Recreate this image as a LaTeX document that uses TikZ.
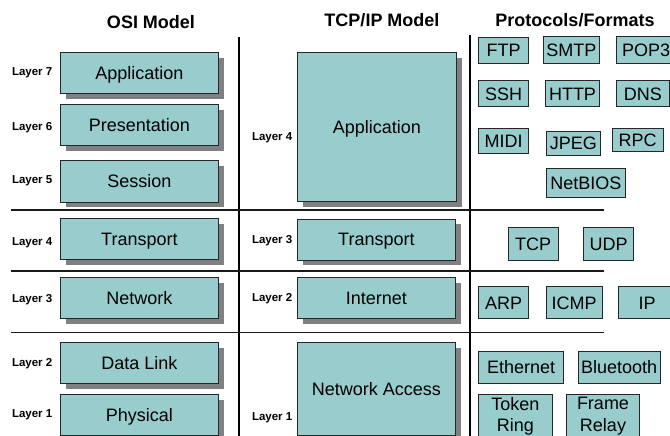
\documentclass[tikz,border=0pt]{standalone}
\usepackage{fontspec}
\setmainfont{Liberation Sans}
\usetikzlibrary{shadows}
\definecolor{boxfill}{HTML}{99CCCC}
\definecolor{shadecol}{HTML}{808080}
\begin{document}
\begin{tikzpicture}[x=1pt,y=-1pt,
  base box/.style={draw=black!85, fill=boxfill, inner sep=0pt, anchor=north west,
    font=\fontsize{18}{21.5}\selectfont},
  onetext/.style={text height=13pt, text depth=0pt},
  layerbox/.style={base box, onetext, line width=0.8pt,
    drop shadow={shadow xshift=5.5pt, shadow yshift=-5.5pt, fill=shadecol, opacity=1}},
  protobox/.style={base box, onetext, line width=0.7pt},
  protobox2/.style={base box, line width=0.7pt, align=center},
  layerlabel/.style={anchor=east, inner sep=0pt, font=\bfseries\fontsize{11.5}{13}\selectfont,
    text height=8.3pt, text depth=0pt},
  coltitle/.style={anchor=base, inner sep=0pt, font=\bfseries\fontsize{18}{21}\selectfont},
  vline/.style={line width=2pt, black},
  hline/.style={line width=1.5pt, black!90}
]
\clip (0,0) rectangle (670,436);
\fill[white] (0,0) rectangle (670,436);

% titles
\node[coltitle] (t1) at (151,29) {OSI Model};
\node[coltitle] (t2) at (382,27) {TCP/IP Model};
\node[coltitle] (t3) at (575,27) {Protocols/Formats};

% divider lines
\coordinate (v1t) at (238.5,37.5); \coordinate (v1b) at (238.5,436);
\coordinate (v2t) at (469.5,35);   \coordinate (v2b) at (469.5,436);
\draw[vline] (v1t) -- (v1b);
\draw[vline] (v2t) -- (v2b);
\coordinate (h1l) at (11,210);   \coordinate (h1r) at (603.5,210);
\coordinate (h2l) at (11,271);   \coordinate (h2r) at (603.5,271);
\coordinate (h3l) at (11,332.5); \coordinate (h3r) at (603.5,332.5);
\draw[hline] (h1l) -- (h1r);
\draw[hline] (h2l) -- (h2r);
\draw[hline] (h3l) -- (h3r);

% OSI model
\node[layerbox, minimum width=158pt, minimum height=41pt] (o7) at (60,52) {Application};
\node[layerbox, minimum width=158pt, minimum height=41pt] (o6) at (60,104.3) {Presentation};
\node[layerbox, minimum width=158pt, minimum height=41.5pt] (o5) at (60,160) {Session};
\node[layerbox, minimum width=158pt, minimum height=41pt] (o4) at (60,218.3) {Transport};
\node[layerbox, minimum width=158pt, minimum height=41pt] (o3) at (60,277.3) {Network};
\node[layerbox, minimum width=158pt, minimum height=41pt] (o2) at (60,341.7) {Data Link};
\node[layerbox, minimum width=158pt, minimum height=41pt] (o1) at (60,394.3) {Physical};

\node[layerlabel] (lo7) at (52.5,71.7) {Layer 7};
\node[layerlabel] (lo6) at (52.5,126) {Layer 6};
\node[layerlabel] (lo5) at (52.5,179) {Layer 5};
\node[layerlabel] (lo4) at (52.5,241.5) {Layer 4};
\node[layerlabel] (lo3) at (52.5,298.3) {Layer 3};
\node[layerlabel] (lo2) at (52.5,362.5) {Layer 2};
\node[layerlabel] (lo1) at (52.5,413.3) {Layer 1};

% TCP/IP model
\node[layerbox, minimum width=158.3pt, minimum height=149pt] (p4) at (297.3,52.2) {Application};
\node[layerbox, minimum width=158pt, minimum height=41pt] (p3) at (297,218.5) {Transport};
\node[layerbox, minimum width=158pt, minimum height=41pt] (p2) at (297,277.3) {Internet};
\node[layerbox, minimum width=158pt, minimum height=93.5pt] (p1) at (297,341.7) {Network Access};

\node[layerlabel] (lp4) at (292.5,136.7) {Layer 4};
\node[layerlabel] (lp3) at (292.5,239) {Layer 3};
\node[layerlabel] (lp2) at (292.5,297.3) {Layer 2};
\node[layerlabel] (lp1) at (292.5,416) {Layer 1};

% protocols
\node[protobox, minimum width=50pt, minimum height=26pt] (ftp) at (478.3,37) {FTP};
\node[protobox, minimum width=56.6pt, minimum height=27pt] (smtp) at (542.7,36.5) {SMTP};
\node[protobox, minimum width=60pt, minimum height=27pt] (pop) at (615.7,36.5) {POP3};
\node[protobox, minimum width=50pt, minimum height=25.5pt] (ssh) at (478.3,80.5) {SSH};
\node[protobox, minimum width=54.3pt, minimum height=26pt] (http) at (545,80.5) {HTTP};
\node[protobox, minimum width=53.6pt, minimum height=26pt] (dns) at (615.7,80.5) {DNS};
\node[protobox, minimum width=50pt, minimum height=25pt] (midi) at (478.3,128.3) {MIDI};
\node[protobox, minimum width=54pt, minimum height=24.5pt] (jpeg) at (546,130.5) {JPEG};
\node[protobox, minimum width=51.3pt, minimum height=23.5pt] (rpc) at (611.7,127.7) {RPC};
\node[protobox, minimum width=79pt, minimum height=29pt] (netbios) at (546,168.3) {NetBIOS};

\node[protobox, minimum width=50pt, minimum height=32.7pt] (tcp) at (507.7,227.3) {TCP};
\node[protobox, minimum width=50pt, minimum height=32.7pt] (udp) at (583.3,227.3) {UDP};

\node[protobox, minimum width=50pt, minimum height=32.3pt] (arp) at (478.3,286) {ARP};
\node[protobox, minimum width=56pt, minimum height=32.3pt] (icmp) at (545.7,286) {ICMP};
\node[protobox, minimum width=57pt, minimum height=32.3pt] (ip) at (618.3,286) {IP};

\node[protobox, minimum width=85pt, minimum height=32pt] (eth) at (478.3,350.7) {Ethernet};
\node[protobox, minimum width=82.5pt, minimum height=32pt] (bt) at (577.5,350.7) {Bluetooth};
\node[protobox2, minimum width=73.4pt, minimum height=44pt] (tr) at (478.3,394) {Token\\Ring};
\node[protobox2, minimum width=73.3pt, minimum height=44pt] (fr) at (566,394) {Frame\\Relay};
\end{tikzpicture}
\end{document}
